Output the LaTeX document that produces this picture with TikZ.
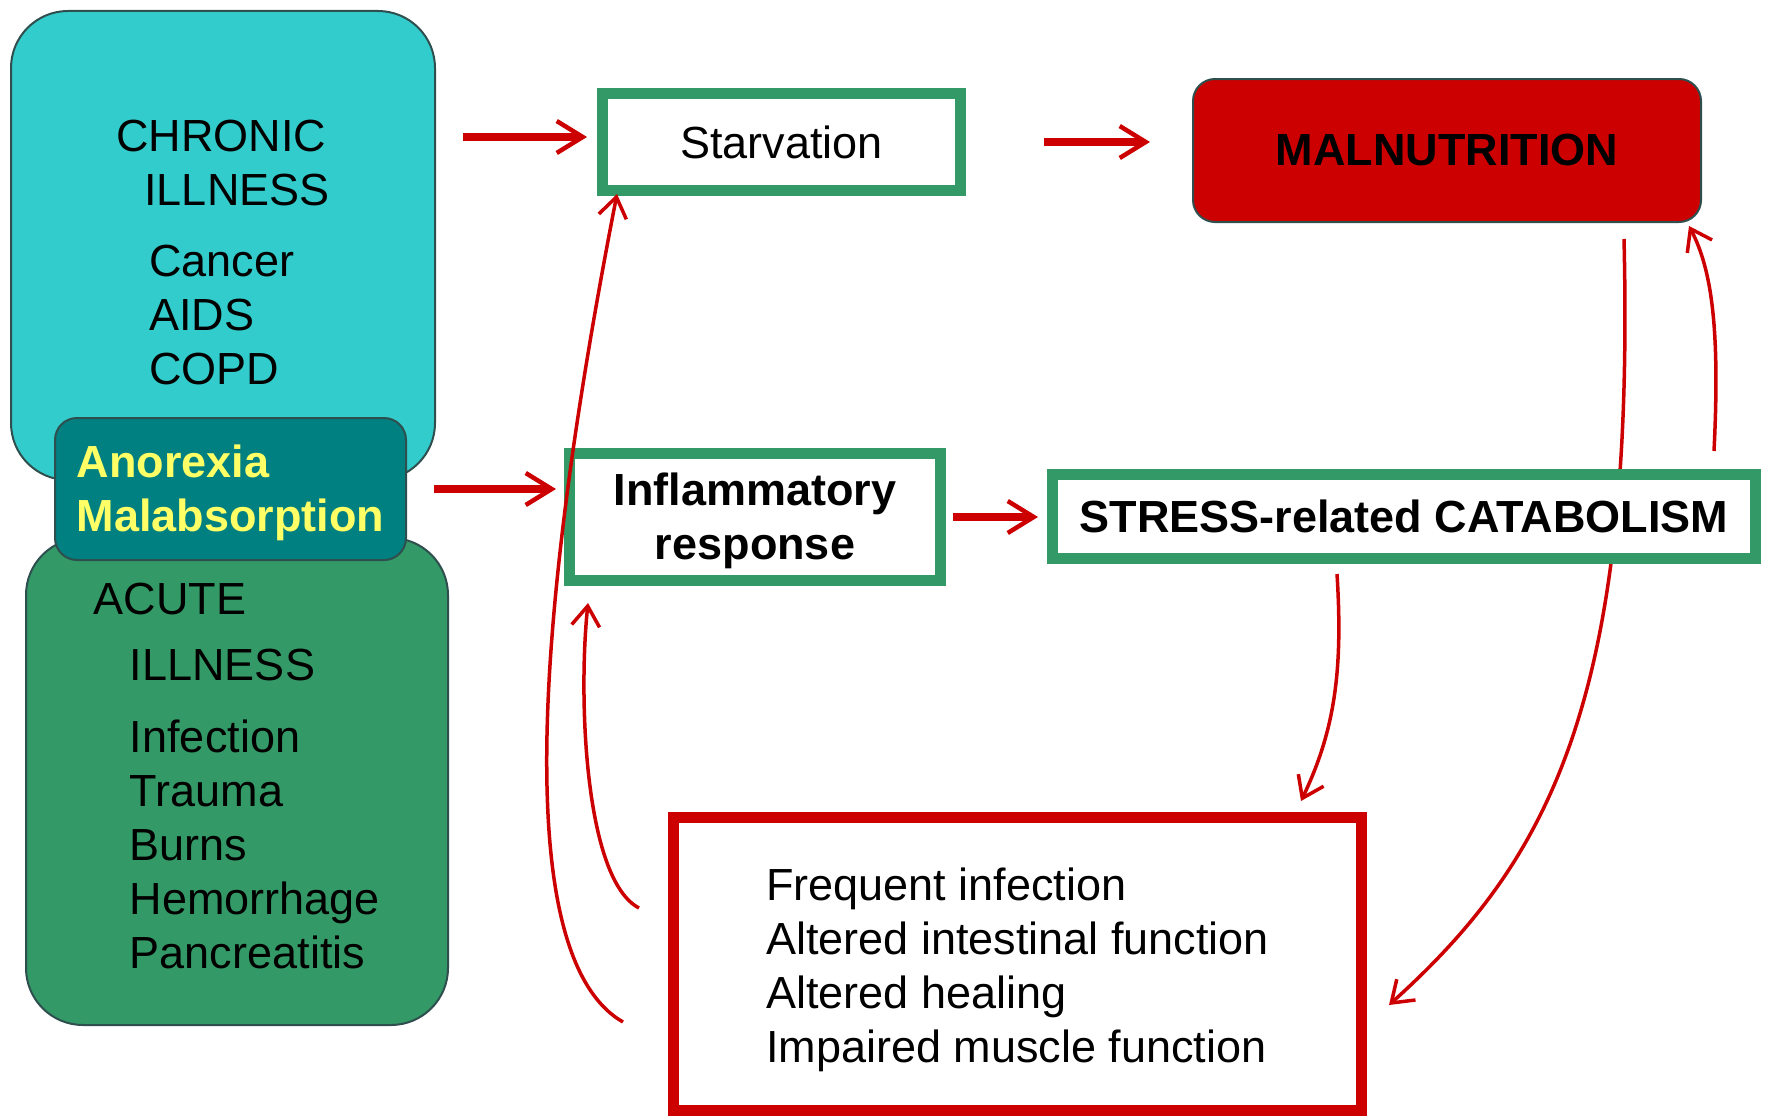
\documentclass[tikz,border=0pt]{standalone}
\usepackage{fontspec}
\setmainfont{Liberation Sans}
\usepackage{tikz}
\usetikzlibrary{positioning, arrows.meta}
\definecolor{MNred}{HTML}{CC0000}
\definecolor{MNgreen}{HTML}{339966}
\definecolor{MNcyan}{HTML}{33CCCC}
\definecolor{MNteal}{HTML}{008080}
\definecolor{MNyellow}{HTML}{FFFF66}
\definecolor{MNedge}{HTML}{2F4F4F}
\pgfdeclarelayer{bg}
\pgfsetlayers{bg,main}

\begin{document}
\begin{tikzpicture}[
  x=1pt, y=-1pt,
  font=\fontsize{45}{54}\selectfont,
  boldtext/.style={font=\fontsize{45}{54}\selectfont\bfseries},
  blob/.style={draw=MNedge, line width=2pt, rounded corners=57pt,
               align=left},
  gbox/.style={draw=MNgreen, line width=11pt, fill=white, align=center},
  rbox/.style={draw=MNred, line width=11pt, fill=white, align=left},
  bigarr/.style={MNred, line width=8pt,
                 -{Straight Barb[length=26pt, width=32pt, line width=4.5pt]}},
  arr/.style={MNred, line width=3.5pt,
              -{Straight Barb[length=20pt, width=28pt]}},
]
\useasboundingbox (0,0) rectangle (1766,1116);

% causes
\node[blob, fill=MNcyan, minimum width=424pt, minimum height=469pt]
  (chronic) at (223,245.5)
  {\rule{0pt}{45pt}CHRONIC\\\hspace*{28pt}ILLNESS\\[17pt]\hspace*{33pt}Cancer\\
   \hspace*{33pt}AIDS\\\hspace*{33pt}COPD};
\node[blob, fill=MNgreen, minimum width=422pt, minimum height=487pt]
  (acute) at (237,781.5)
  {ACUTE\\[12pt]\hspace*{36pt}ILLNESS\\[18pt]\hspace*{36pt}Infection\\
   \hspace*{36pt}Trauma\\\hspace*{36pt}Burns\\\hspace*{36pt}Hemorrhage\\
   \hspace*{36pt}Pancreatitis\rule[-11pt]{0pt}{11pt}};
\node[blob, boldtext, fill=MNteal, text=MNyellow, rounded corners=22pt,
      minimum width=351pt, minimum height=142pt]
  (anor) at (230.5,489) {\rule{0pt}{41pt}Anorexia\\Malabsorption};

% mechanisms
\node[gbox, minimum width=358pt, minimum height=97pt]
  (starv) at (781.5,142) {Starvation};
\node[gbox, boldtext, minimum width=371pt, minimum height=127pt]
  (infl) at (755,517) {\rule{0pt}{41pt}Inflammatory\\response};
\node[gbox, boldtext, minimum width=703pt, minimum height=84pt]
  (stress) at (1404,516.5) {STRESS-related CATABOLISM};
\node[boldtext, draw=MNedge, line width=2pt, fill=MNred, rounded corners=22pt,
      minimum width=508pt, minimum height=143pt]
  (maln) at (1447,150.5) {MALNUTRITION};
\node[rbox, minimum width=688pt, minimum height=293pt]
  (cons) at (1017.5,964)
  {\rule{0pt}{44pt}Frequent infection\\Altered intestinal function\\Altered healing\\
   Impaired muscle function};

\draw[bigarr] ([xshift=27pt,yshift=5pt]chronic.east |- starv.west)
  -- ([xshift=-10pt,yshift=5pt]starv.west);
\draw[bigarr, shorten <=78pt, shorten >=42pt] (starv.east) -- (starv.east -| maln.west);
\draw[bigarr, shorten <=27pt, shorten >=8pt] (anor.east) -- (anor.east -| infl.west);
\draw[bigarr, shorten <=7pt, shorten >=9pt] (infl.east) -- (infl.east -| stress.west);

% feedback loops
\draw[arr] ([xshift=-45pt,yshift=-58pt]cons.west)
  .. controls (515,960) and (530,640) .. ([xshift=20pt,yshift=2pt]starv.south west);
\draw[arr] ([xshift=-29pt,yshift=56pt]cons.west)
  .. controls (585,880) and (578,700) .. ([xshift=24pt,yshift=-17pt]infl.south west);
\begin{pgfonlayer}{bg}
\draw[arr] ([xshift=-78pt,yshift=-16pt]maln.south east)
  .. controls (1635,700) and (1550,860) .. ([xshift=22pt,yshift=-41pt]cons.east);
\end{pgfonlayer}
\draw[arr] ([xshift=-47pt,yshift=18pt]stress.north east)
  .. controls (1720,330) and (1712,270) .. ([xshift=-13pt,yshift=-3pt]maln.south east);
\draw[arr] ([xshift=-67pt,yshift=-10pt]stress.south)
  .. controls (1343,670) and (1335,730) .. ([xshift=-66pt,yshift=11pt]cons.north east);
\end{tikzpicture}
\end{document}
